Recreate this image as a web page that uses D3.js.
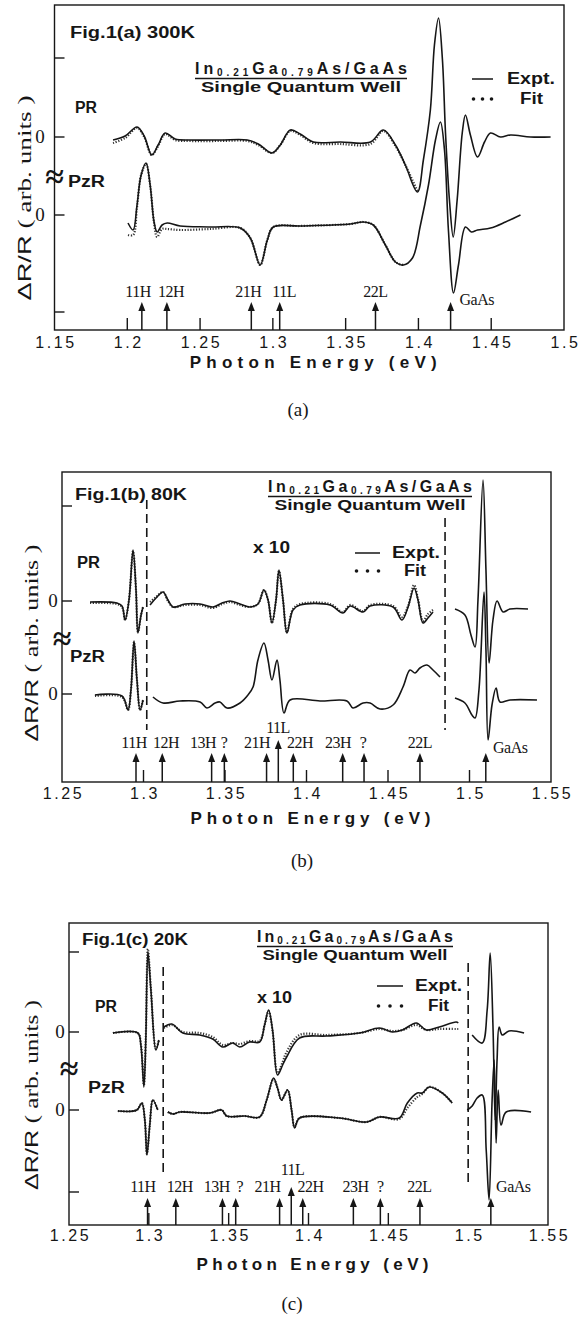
<!DOCTYPE html>
<html>
<head>
<meta charset="utf-8">
<script src="https://cdn.jsdelivr.net/npm/d3@7"></script>
<style>
  body { margin: 0; background: #fff; }
  svg { display: block; }
</style>
</head>
<body>
<svg id="fig" width="581" height="1320"></svg>
<script>
// ---------- data: [photon energy (eV), dR/R (arb. units, from each curve's zero)] ----------
// null = gap in the trace (dashed separators)

// Fig.1(a) 300K
const aPrExpt = [[1.1902,-0.3],[1.1985,0.1],[1.2067,1.0],[1.2116,0.1],[1.2168,-1.8],[1.2212,-0.8],[1.226,0.4],[1.2329,-0.2],[1.2432,-0.3],[1.2638,-0.3],[1.2824,-0.3],[1.29,-0.7],[1.2994,-1.6],[1.3051,-0.8],[1.312,0.7],[1.3188,0.3],[1.3278,-0.5],[1.3463,-0.5],[1.367,-0.5],[1.3759,0.7],[1.3842,-0.8],[1.391,-2.8],[1.3993,-5.5],[1.4034,-2.3],[1.4082,2.7],[1.411,9.2],[1.4138,11.9],[1.4165,7.7],[1.4186,0.4],[1.4213,-6.3],[1.4239,-10.0],[1.4266,-6.3],[1.4301,0.4],[1.4323,2.2],[1.4357,0.2],[1.4406,-2.0],[1.4454,-0.5],[1.4495,0.4],[1.4564,0.0],[1.4633,0.2],[1.477,0.0],[1.4908,0.0]];
const aPrFit = [[1.1902,-0.6],[1.1985,-0.1],[1.2067,0.9],[1.2116,0.0],[1.2168,-1.8],[1.2212,-0.9],[1.226,0.3],[1.2329,-0.3],[1.2432,-0.4],[1.2638,-0.4],[1.2824,-0.4],[1.29,-0.8],[1.2994,-1.6],[1.3051,-0.8],[1.312,0.6],[1.3188,0.2],[1.3278,-0.6],[1.3463,-0.7],[1.367,-0.7],[1.3759,0.6],[1.3842,-0.9],[1.391,-2.8],[1.3993,-5.4]];
const aPzrExpt = [[1.2005,-0.8],[1.204,-1.5],[1.2067,1.0],[1.2095,4.0],[1.2129,5.2],[1.2157,3.0],[1.2184,-0.7],[1.2205,-1.7],[1.2239,-1.0],[1.2274,-0.8],[1.2363,-1.1],[1.2569,-1.2],[1.2776,-1.3],[1.2845,-2.3],[1.2913,-5.0],[1.2962,-2.5],[1.3003,-1.2],[1.3188,-1.1],[1.3532,-0.9],[1.3622,-0.7],[1.369,-1.0],[1.3773,-3.0],[1.3842,-4.7],[1.3897,-5.0],[1.3959,-4.3],[1.4014,-1.0],[1.4069,3.0],[1.4117,7.5],[1.4151,9.3],[1.4179,6.5],[1.4206,-1.5],[1.4241,-7.8],[1.4275,-5.0],[1.4323,-1.2],[1.4364,-1.7],[1.4406,-1.5],[1.4495,-1.3],[1.4598,-0.7],[1.4701,0.0]];
const aPzrFit = [[1.2005,-2.0],[1.204,-2.0],[1.2067,0.8],[1.2095,4.0],[1.2129,5.1],[1.2157,3.0],[1.2184,-0.8],[1.2205,-2.2],[1.2239,-1.4],[1.2274,-1.4],[1.2363,-1.5],[1.2569,-1.4],[1.2776,-1.3],[1.2845,-2.3],[1.2913,-5.0],[1.2962,-2.5],[1.3003,-1.2],[1.3188,-1.1],[1.3532,-0.9],[1.3622,-0.7],[1.369,-1.0],[1.3773,-3.0],[1.3842,-4.7],[1.3897,-5.0]];
const aXTicks = [1.15,1.2,1.25,1.3,1.35,1.4,1.45,1.5];
const aXTickLabels = ["1.15","1.2","1.25","1.3","1.35","1.4","1.45","1.5"];
const aInTicks = [1.2,1.25,1.3,1.35,1.4,1.45];
const aYTicks = [-9.7,0,7.8,15.7];
const aYTickLabels = ["","0","0",""];
const aArrowE = [1.210,1.2272,1.2852,1.3047,1.3705,1.4221];
const aLabels = ["11H","12H","21H","11L","22L","GaAs"];
const aLabelE = [1.2074,1.2301,1.2831,1.3078,1.3704,1.4282];

// Fig.1(b) 80K
const bPrExpt = [[1.2672,-0.1],[1.2837,-0.2],[1.2868,-0.5],[1.2887,-1.9],[1.2911,0.1],[1.2936,5.1],[1.2954,1.1],[1.2966,-3.2],[1.2985,-1.4],[1.2997,-0.6],null,
  [1.304,-0.4],[1.3077,0.3],[1.312,0.9],[1.315,0.1],[1.3181,-0.6],[1.3255,-0.3],[1.3347,-0.3],[1.3426,-0.6],[1.3482,-0.2],[1.3531,0.0],[1.3592,-0.3],[1.3653,-0.6],[1.3702,-0.3],[1.3739,1.1],[1.3764,0.1],[1.3788,-2.2],[1.3813,0.1],[1.3831,3.1],[1.3856,0.1],[1.388,-3.2],[1.3917,-0.9],[1.396,-0.4],[1.4144,-0.4],[1.4224,-1.2],[1.4267,-0.5],[1.4347,-1.1],[1.439,-0.5],[1.4531,-0.6],[1.4586,-1.9],[1.4623,-0.6],[1.466,1.3],[1.4684,0.1],[1.4715,-2.2],[1.4745,-1.7],[1.4776,-1.1],null,
  [1.4911,-0.8],[1.4972,-1.4],[1.5009,-3.4],[1.5034,-4.6],[1.5052,0.1],[1.5083,12.1],[1.5101,3.1],[1.512,-6.2],[1.5144,-1.9],[1.5169,0.0],[1.5206,-1.1],[1.5248,-0.8],[1.5359,-0.8]];
const bPrFit = [[1.2672,-0.2],[1.2837,-0.3],[1.2868,-0.6],[1.2887,-1.9],[1.2911,0.1],[1.2936,5.0],[1.2954,1.1],[1.2966,-3.1],[1.2985,-1.4],[1.2997,-0.6],null,
  [1.304,-0.1],[1.3077,0.4],[1.312,0.9],[1.315,0.0],[1.3181,-0.6],[1.3255,-0.4],[1.3347,-0.4],[1.3426,-0.7],[1.3482,-0.3],[1.3531,-0.1],[1.3592,-0.4],[1.3653,-0.6],[1.3702,-0.3],[1.3739,1.1],[1.3764,0.1],[1.3788,-2.2],[1.3813,0.1],[1.3831,3.0],[1.3856,0.1],[1.388,-3.1],[1.3917,-0.8],[1.396,-0.3],[1.4144,-0.3],[1.4224,-1.1],[1.4267,-0.4],[1.4347,-1.0],[1.439,-0.4],[1.4531,-0.5],[1.4586,-1.6],[1.4623,-0.5],[1.466,1.6],[1.4684,0.2],[1.4715,-2.0],[1.4745,-1.3],[1.4776,-0.9]];
const bPzrExpt = [[1.2702,-0.1],[1.2868,-0.2],[1.2905,-1.6],[1.2923,0.4],[1.2942,5.3],[1.296,1.4],[1.2979,-1.6],[1.2997,-0.6],null,
  [1.3058,-0.3],[1.312,-0.9],[1.3224,-0.7],[1.3347,-0.8],[1.3389,-1.4],[1.3439,-0.9],[1.3469,-0.8],[1.3512,-1.4],[1.3592,-0.9],[1.3641,-0.1],[1.3672,0.7],[1.3702,3.4],[1.3739,5.1],[1.3764,3.4],[1.3788,1.4],[1.3819,3.4],[1.3837,1.4],[1.3862,-1.9],[1.3899,-0.6],[1.4083,-0.7],[1.4248,-0.7],[1.4285,-1.4],[1.4347,-0.9],[1.439,-0.9],[1.4451,-1.5],[1.4531,-1.1],[1.4592,0.7],[1.4635,2.4],[1.4666,2.1],[1.4696,2.6],[1.4739,2.9],[1.4776,2.4],[1.4819,1.7],null,
  [1.4911,-0.4],[1.4972,-0.9],[1.5015,-2.1],[1.5034,-2.4],[1.5058,0.4],[1.5089,10.2],[1.5101,4.4],[1.5114,-4.6],[1.5138,-1.1],[1.5163,0.6],[1.5187,-0.8],[1.5248,-0.6],[1.5414,-0.6]];
const bPzrFit = [[1.2702,-0.2],[1.2868,-0.3],[1.2905,-1.6],[1.2923,0.4],[1.2942,5.2],[1.296,1.4],[1.2979,-1.6],[1.2997,-0.6]];
const bXTicks = [1.25,1.3,1.35,1.4,1.45,1.5,1.55];
const bXTickLabels = ["1.25","1.3","1.35","1.4","1.45","1.5","1.55"];
const bInTicks = [1.3,1.35,1.4,1.45,1.5];
const bYTicks = [0,9.3,18.8];
const bYTickLabels = ["0","0",""];
const bArrowE = [1.2954,1.3115,1.3418,1.3496,1.3755,1.3827,1.3919,1.4222,1.4353,1.4696,1.5100];
const bLabels = ["11H","12H","13H","?","21H","11L","22H","23H","?","22L","GaAs"];
const bLabelE = [1.2942,1.3138,1.3365,1.3494,1.3696,1.3825,1.396,1.4193,1.4347,1.4696,1.5144];
const bDashE = [1.302,1.485];

// Fig.1(c) 20K
const cPrExpt = [[1.2775,-0.1],[1.2931,-0.1],[1.295,-1.3],[1.2969,-5.5],[1.2981,-0.8],[1.2994,8.0],[1.3013,4.2],[1.3044,-1.8],[1.3063,-0.8],null,
  [1.3094,0.5],[1.3144,0.8],[1.3213,-0.1],[1.3319,-0.3],[1.34,-0.7],[1.3463,-1.5],[1.3525,-1.1],[1.3569,-1.5],[1.3631,-1.0],[1.3694,-1.0],[1.3725,0.7],[1.375,2.2],[1.3775,0.2],[1.3806,-4.3],[1.3838,-3.3],[1.3863,-2.5],[1.3944,-0.6],[1.4113,-0.4],[1.4319,-0.1],[1.4444,0.4],[1.4525,0.0],[1.4588,0.2],[1.4675,0.9],[1.4738,0.2],[1.4819,0.5],[1.4925,1.0],[1.4938,0.9],null,
  [1.5025,-0.3],[1.5088,-1.1],[1.5119,2.2],[1.5138,7.9],[1.5156,0.2],[1.5169,-8.8],[1.5181,-2.8],[1.5194,0.5],[1.5213,-0.3],[1.5256,0.1],[1.535,-0.1]];
const cPrFit = [[1.2775,-0.1],[1.2931,-0.1],[1.295,-1.2],[1.2969,-5.3],[1.2981,-0.6],[1.2994,8.3],[1.3013,4.3],[1.3044,-1.7],[1.3063,-0.8],null,
  [1.3094,0.4],[1.3144,0.7],[1.3213,0.0],[1.3319,-0.1],[1.34,-0.5],[1.3463,-1.3],[1.3525,-1.1],[1.3569,-1.2],[1.3631,-0.9],[1.3694,-0.9],[1.3725,0.7],[1.375,2.1],[1.3775,0.1],[1.3806,-4.1],[1.3838,-3.0],[1.3863,-2.0],[1.3944,-0.3],[1.4113,-0.3],[1.4319,-0.1],[1.4444,0.3],[1.4525,0.1],[1.4588,0.2],[1.4675,0.7],[1.4738,0.2],[1.4819,0.3],[1.4925,0.3],[1.4938,0.3]];
const cPzrExpt = [[1.2806,-0.1],[1.2925,0.0],[1.2956,0.7],[1.2975,-1.0],[1.2988,-4.5],[1.3006,-1.5],[1.3025,1.0],[1.3056,0.0],null,
  [1.3119,-0.2],[1.315,-0.4],[1.3194,-0.2],[1.3381,-0.3],[1.3456,0.0],[1.3488,-0.6],[1.36,-0.6],[1.3694,-0.7],[1.3738,1.0],[1.3781,3.2],[1.3806,2.2],[1.3831,1.0],[1.3869,2.0],[1.3894,0.0],[1.3913,-1.8],[1.3944,-0.8],[1.4194,-0.8],[1.4363,-1.2],[1.4444,-0.7],[1.4569,-0.8],[1.4619,0.7],[1.4681,1.7],[1.4713,1.7],[1.4756,2.3],[1.4838,1.7],[1.49,0.7],null,
  [1.4994,0.0],[1.5025,0.4],[1.5056,1.2],[1.5088,1.5],[1.5113,-4.0],[1.5131,-9.0],[1.515,1.0],[1.5163,5.0],[1.5175,-3.3],[1.5188,2.0],[1.5206,-1.5],[1.5238,-0.2],[1.5394,-0.2]];
const cPzrFit = [[1.2806,-0.1],[1.2925,0.0],[1.2956,0.7],[1.2975,-1.0],[1.2988,-4.4],[1.3006,-1.5],[1.3025,1.0],[1.3056,0.0],null,
  [1.3119,-0.2],[1.315,-0.4],[1.3194,-0.2],[1.3381,-0.3],[1.3456,0.0],[1.3488,-0.6],[1.36,-0.6],[1.3694,-0.7],[1.3738,1.0],[1.3781,3.1],[1.3806,2.2],[1.3831,1.0],[1.3869,2.0],[1.3894,0.0],[1.3913,-1.7],[1.3944,-0.8],[1.4194,-0.8],[1.4363,-1.2],[1.4444,-0.7],[1.4569,-0.9],[1.4619,0.2],[1.4681,1.3],[1.4713,1.6],[1.4756,2.3],[1.4838,1.7],[1.49,0.7]];
const cXTicks = [1.25,1.3,1.35,1.4,1.45,1.5,1.55];
const cXTickLabels = ["1.25","1.3","1.35","1.4","1.45","1.5","1.55"];
const cInTicks = [1.3,1.35,1.4,1.45];
const cYTicks = [-8.2,0,7.8,15.8];
const cYTickLabels = ["","0","0",""];
const cArrowE = [1.2992,1.3169,1.3461,1.3544,1.3819,1.3892,1.3964,1.4281,1.445,1.4698,1.5142];
const cLabels = ["11H","12H","13H","?","21H","11L","22H","23H","?","22L","GaAs"];
const cLabelE = [1.2963,1.3194,1.3425,1.3569,1.3744,1.39,1.4013,1.4294,1.445,1.4694,1.5175];
const cDashE = [1.309,1.5];

// ---------- layout ----------
const SANS = "'Liberation Sans', Arial, Helvetica, sans-serif";
const SERIF = "'Liberation Serif', 'Times New Roman', serif";
const INK = "#161616";

const panels = [
  {
    pr: aPrExpt, prFit: aPrFit, pzr: aPzrExpt, pzrFit: aPzrFit, prZero: 7.8,
    xDomain: [1.15, 1.5], xRange: [54.5, 564], yDomain: [-11.5, 21], yRange: [330, 5],
    xTicks: aXTicks, xTickLabels: aXTickLabels, inTicks: aInTicks,
    yTicks: aYTicks, yTickLabels: aYTickLabels, brk: 3.7,
    arrows: aArrowE, labels: aLabels, labelE: aLabelE, dashes: [], dashY: [],
    fig: {text: "Fig.1(a) 300K", x: 70, y: 38, w: 125},
    title: {cx: 301, y: 74, w: 212, y2: 92, w2: 200},
    legend: {x1: 472, x2: 493, y1: 79, y2: 99, tx1: 507, w1: 48, tx2: 520, w2: 23},
    prLbl: {x: 75, y: 113, w: 22}, pzrLbl: {x: 68, y: 187, w: 37},
    yLbl: {x: 25, y: 198, w: 205}, zeroX: 40,
    tickY: 348, axTitle: {y: 368, w: 247}, cap: {text: "(a)", x: 298, y: 416},
    arrowLen: 28, arrow11L: 28, labelY: 297, label11LY: 297, gaasY: 305, x10: null
  },
  {
    pr: bPrExpt, prFit: bPrFit, pzr: bPzrExpt, pzrFit: bPzrFit, prZero: 9.3,
    xDomain: [1.25, 1.55], xRange: [62, 551], yDomain: [-8.8, 22.2], yRange: [782, 472],
    xTicks: bXTicks, xTickLabels: bXTickLabels, inTicks: bInTicks,
    yTicks: bYTicks, yTickLabels: bYTickLabels, brk: 5.4,
    arrows: bArrowE, labels: bLabels, labelE: bLabelE, dashes: bDashE, dashY: [[19.4, -3.6], [17.6, -3.6]],
    fig: {text: "Fig.1(b) 80K", x: 75, y: 500, w: 112},
    title: {cx: 370, y: 492, w: 204, y2: 510, w2: 191},
    legend: {x1: 355, x2: 380, y1: 553, y2: 571, tx1: 392, w1: 48, tx2: 404, w2: 22},
    prLbl: {x: 77, y: 568, w: 23}, pzrLbl: {x: 70, y: 662, w: 35},
    yLbl: {x: 32, y: 643, w: 197}, zeroX: 53,
    tickY: 799, axTitle: {y: 824, w: 240}, cap: {text: "(b)", x: 302, y: 867},
    arrowLen: 29, arrow11L: 42, labelY: 748, label11LY: 733, gaasY: 753,
    x10: {x: 253, y: 553, w: 37}
  },
  {
    pr: cPrExpt, prFit: cPrFit, pzr: cPzrExpt, pzrFit: cPzrFit, prZero: 7.8,
    xDomain: [1.25, 1.55], xRange: [69, 548], yDomain: [-11.5, 18.7], yRange: [1225, 923],
    xTicks: cXTicks, xTickLabels: cXTickLabels, inTicks: cInTicks,
    yTicks: cYTicks, yTickLabels: cYTickLabels, brk: 4.0,
    arrows: cArrowE, labels: cLabels, labelE: cLabelE, dashes: cDashE, dashY: [[14.3, -6.7], [14.7, -7.7]],
    fig: {text: "Fig.1(c) 20K", x: 82, y: 945, w: 106},
    title: {cx: 355, y: 942, w: 196, y2: 960, w2: 185},
    legend: {x1: 377, x2: 403, y1: 986, y2: 1006, tx1: 415, w1: 47, tx2: 428, w2: 21},
    prLbl: {x: 95, y: 1012, w: 22}, pzrLbl: {x: 88, y: 1093, w: 37},
    yLbl: {x: 32, y: 1095, w: 190}, zeroX: 60,
    tickY: 1241, axTitle: {y: 1270, w: 232}, cap: {text: "(c)", x: 292, y: 1310},
    arrowLen: 27, arrow11L: 38, labelY: 1192, label11LY: 1175, gaasY: 1192,
    x10: {x: 257, y: 1003, w: 35}
  }
];

const svg = d3.select("#fig");

panels.forEach(drawPanel);

function drawPanel(p) {
  const x = d3.scaleLinear().domain(p.xDomain).range(p.xRange);
  const y = d3.scaleLinear().domain(p.yDomain).range(p.yRange);
  const [left, right] = p.xRange;
  const [bottom, top] = p.yRange;
  const g = svg.append("g");

  const lineFor = (offset) => d3.line()
    .defined(d => d !== null)
    .x(d => x(d[0]))
    .y(d => y(d[1] + offset))
    .curve(d3.curveCatmullRom.alpha(0.5));

  // fits (dotted) underneath, experiment (solid) on top
  [[p.prFit, p.prZero], [p.pzrFit, 0]].forEach(([data, off]) => {
    g.append("path").attr("d", lineFor(off)(data))
      .attr("fill", "none").attr("stroke", "#333").attr("stroke-width", 2.2)
      .attr("stroke-dasharray", "1.2,1.6");
  });
  [[p.pr, p.prZero], [p.pzr, 0]].forEach(([data, off]) => {
    g.append("path").attr("d", lineFor(off)(data))
      .attr("fill", "none").attr("stroke", INK).attr("stroke-width", 1.6)
      .attr("stroke-linejoin", "round");
  });

  // dashed separators
  p.dashes.forEach((e, i) => {
    g.append("line")
      .attr("x1", x(e)).attr("x2", x(e))
      .attr("y1", y(p.dashY[i][0])).attr("y2", y(p.dashY[i][1]))
      .attr("stroke", INK).attr("stroke-width", 1.6)
      .attr("stroke-dasharray", "9,5");
  });

  // frame
  g.append("rect")
    .attr("x", left).attr("y", top)
    .attr("width", right - left).attr("height", bottom - top)
    .attr("fill", "none").attr("stroke", INK).attr("stroke-width", 1.4);

  // inner x ticks
  p.inTicks.forEach(t => {
    g.append("line").attr("x1", x(t)).attr("x2", x(t))
      .attr("y1", bottom).attr("y2", bottom - 12)
      .attr("stroke", INK).attr("stroke-width", 1.4);
  });
  // x tick labels
  p.xTicks.forEach((t, i) => {
    g.append("text").attr("x", x(t) + 1.5).attr("y", p.tickY)
      .attr("text-anchor", "middle")
      .style("font-family", SANS).style("font-size", "16px")
      .style("letter-spacing", "2.6px").attr("fill", INK)
      .text(p.xTickLabels[i]);
  });

  // y ticks and labels
  p.yTicks.forEach((t, i) => {
    g.append("line").attr("x1", left).attr("x2", left + 10)
      .attr("y1", y(t)).attr("y2", y(t))
      .attr("stroke", INK).attr("stroke-width", 1.4);
    if (p.yTickLabels[i]) {
      g.append("text").attr("x", p.zeroX).attr("y", y(t) + 6)
        .attr("text-anchor", "middle")
        .style("font-family", SERIF).style("font-size", "19px").attr("fill", INK)
        .text(p.yTickLabels[i]);
    }
  });

  // axis break mark
  g.append("text").attr("x", left).attr("y", y(p.brk) + 10)
    .attr("text-anchor", "middle")
    .style("font-family", SERIF).style("font-size", "34px").style("font-weight", "bold")
    .attr("fill", INK).text("\u2248");

  // transition arrows and labels
  p.arrows.forEach((e, i) => {
    const is11L = p.labels[i] === "11L";
    const len = is11L ? p.arrow11L : p.arrowLen;
    const ax = x(e), tip = bottom - len;
    g.append("line").attr("x1", ax).attr("x2", ax)
      .attr("y1", bottom).attr("y2", tip + 4)
      .attr("stroke", INK).attr("stroke-width", 1.5);
    g.append("path")
      .attr("d", `M${ax - 3.5},${tip + 9}L${ax},${tip}L${ax + 3.5},${tip + 9}Z`)
      .attr("fill", INK);
  });
  p.labels.forEach((lab, i) => {
    const isGaAs = lab === "GaAs";
    const ly = isGaAs ? p.gaasY : (lab === "11L" ? p.label11LY : p.labelY);
    g.append("text").attr("x", x(p.labelE[i])).attr("y", ly)
      .attr("text-anchor", isGaAs ? "start" : "middle")
      .style("font-family", SERIF).style("font-size", "16px")
      .style("letter-spacing", "-0.5px").attr("fill", INK)
      .text(lab);
  });

  // texts
  const boldText = (tx, ty, str, w, size, anchor) => {
    const t = g.append("text").attr("x", tx).attr("y", ty)
      .attr("text-anchor", anchor || "start")
      .style("font-family", SANS).style("font-size", size + "px")
      .style("font-weight", "bold").attr("fill", INK).text(str);
    if (w) t.attr("textLength", w).attr("lengthAdjust", "spacingAndGlyphs");
    return t;
  };
  boldText(p.fig.x, p.fig.y, p.fig.text, p.fig.w, 16);
  boldText(p.prLbl.x, p.prLbl.y, "PR", p.prLbl.w, 16);
  boldText(p.pzrLbl.x, p.pzrLbl.y, "PzR", p.pzrLbl.w, 16);
  if (p.x10) boldText(p.x10.x, p.x10.y, "x 10", p.x10.w, 16);

  // sample title with subscripts
  const tt = g.append("text").attr("x", p.title.cx).attr("y", p.title.y)
    .attr("text-anchor", "middle")
    .style("font-family", SANS).style("font-size", "16px").style("font-weight", "bold")
    .attr("fill", INK)
    .attr("textLength", p.title.w).attr("lengthAdjust", "spacing");
  tt.append("tspan").text("In");
  tt.append("tspan").attr("dy", 2).style("font-size", "10px").text("0.21");
  tt.append("tspan").attr("dy", -2).text("Ga");
  tt.append("tspan").attr("dy", 2).style("font-size", "10px").text("0.79");
  tt.append("tspan").attr("dy", -2).text("As/GaAs");
  g.append("line")
    .attr("x1", p.title.cx - p.title.w / 2).attr("x2", p.title.cx + p.title.w / 2)
    .attr("y1", p.title.y + 4.5).attr("y2", p.title.y + 4.5)
    .attr("stroke", INK).attr("stroke-width", 1.3);
  boldText(p.title.cx, p.title.y2, "Single Quantum Well", p.title.w2, 14.5, "middle");

  // legend
  const L = p.legend;
  g.append("line").attr("x1", L.x1).attr("x2", L.x2).attr("y1", L.y1).attr("y2", L.y1)
    .attr("stroke", INK).attr("stroke-width", 1.5);
  [0, 0.5, 1].forEach(f => {
    g.append("circle").attr("cx", L.x1 + 1.5 + f * (L.x2 - L.x1 - 3)).attr("cy", L.y2)
      .attr("r", 1.8).attr("fill", INK);
  });
  boldText(L.tx1, L.y1 + 5, "Expt.", L.w1, 16);
  boldText(L.tx2, L.y2 + 5, "Fit", L.w2, 16);

  // y axis label
  const yl = g.append("text")
    .attr("transform", `translate(${p.yLbl.x},${p.yLbl.y}) rotate(-90)`)
    .attr("text-anchor", "middle").attr("dy", 6)
    .attr("fill", INK).style("font-size", "19px")
    .attr("textLength", p.yLbl.w).attr("lengthAdjust", "spacingAndGlyphs");
  yl.append("tspan").style("font-family", SANS).text("\u0394R/R");
  yl.append("tspan").style("font-family", SERIF).text(" ( arb. units )");

  // x axis title and caption
  boldText((left + right) / 2 + 4, p.axTitle.y, "Photon Energy (eV)", p.axTitle.w, 17, "middle")
    .attr("lengthAdjust", "spacing");
  g.append("text").attr("x", p.cap.x).attr("y", p.cap.y)
    .attr("text-anchor", "middle")
    .style("font-family", SERIF).style("font-size", "19px").attr("fill", INK)
    .text(p.cap.text);
}
</script>
</body>
</html>
